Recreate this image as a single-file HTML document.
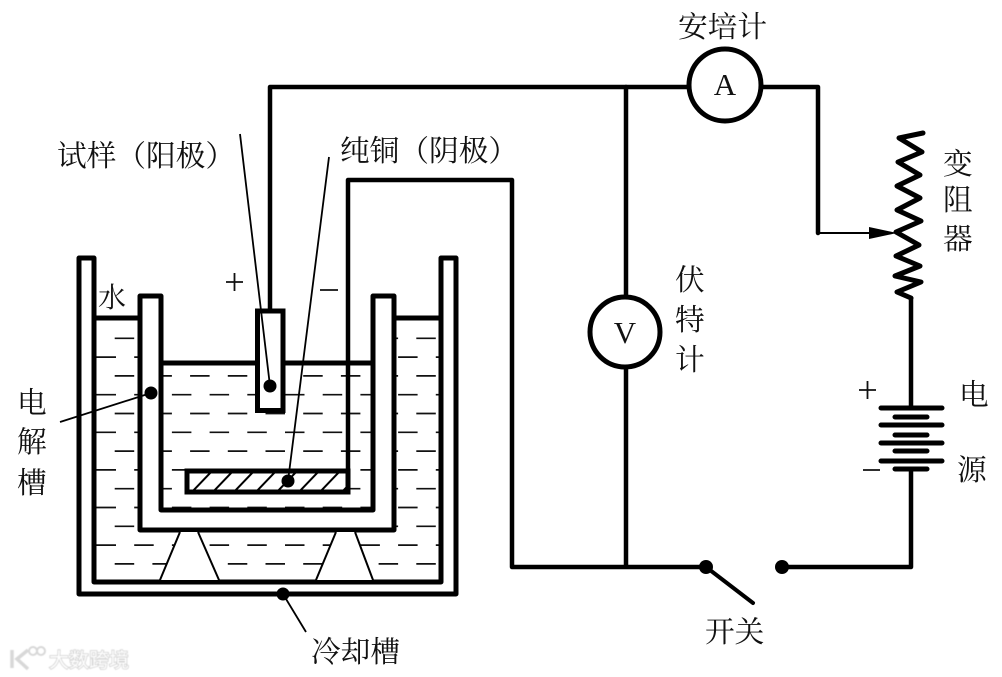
<!DOCTYPE html>
<html><head><meta charset="utf-8"><style>
html,body{margin:0;padding:0;background:#fff}
svg{display:block}
text{font-family:"Liberation Serif","Noto Serif CJK SC",serif;fill:#111;font-size:29.700px}
</style></head><body>
<svg width="1002" height="677" viewBox="0 0 1002 677" xmlns="http://www.w3.org/2000/svg">
<defs>
<clipPath id="cw"><path d="M94 318H139V530H394V318H441V582H94Z"/></clipPath>
<clipPath id="ci"><rect x="162" y="363" width="211" height="147"/></clipPath>
<clipPath id="ch"><rect x="187" y="471" width="161" height="21"/></clipPath>
<filter id="soft" x="-10%" y="-20%" width="120%" height="140%"><feGaussianBlur stdDeviation="0.500"/></filter>
<g id="dashes" stroke="#111" stroke-width="1.700" fill="none">
<path d="M77 338.300H460M77 375.900H460M77 413.500H460M77 451.100H460M77 488.700H460M77 526.300H460M77 563.900H460" stroke-dasharray="19.500 18.200"/>
<path d="M96.500 357.100H460M96.500 394.700H460M96.500 432.300H460M96.500 469.900H460M96.500 507.500H460M96.500 545.100H460" stroke-dasharray="19.500 18.200"/>
</g>
</defs>
<rect width="1002" height="677" fill="#fff"/>
<g clip-path="url(#cw)"><use href="#dashes"/></g>
<g clip-path="url(#ci)"><use href="#dashes"/></g>
<g stroke="#000" fill="none" stroke-linejoin="round" stroke-linecap="round">
<path d="M94 582V258H79V594H456V258H441V582H94" stroke-width="5"/>
<path d="M94 318H139M394 318H441" stroke-width="5"/>
<path d="M161 510V296H140V530H394V296H373V510H161" stroke-width="5"/>
<path d="M162 363H373" stroke-width="5"/>
</g>
<path d="M180 532L160 580H219L198 532ZM336 532L316 580H373L355 532Z" fill="#fff"/>
<path d="M180 532L160 580M198 532L219 580M336 532L316 580M355 532L373 580" stroke="#000" stroke-width="2" fill="none"/>
<rect x="257.500" y="311" width="25.500" height="99.500" fill="#fff" stroke="#000" stroke-width="5"/>
<rect x="187" y="471" width="161" height="21" fill="#fff"/>
<g clip-path="url(#ch)" stroke="#000" stroke-width="2">
<path d="M190 494L212 471M211 494L233 471M232 494L254 471M254 494L276 471M275 494L297 471M297 494L319 471M318 494L340 471M340 494L362 471"/>
</g>
<rect x="187" y="471" width="161" height="21" fill="none" stroke="#000" stroke-width="5"/>
<g stroke="#000" stroke-width="4.500" fill="none" stroke-linecap="round" stroke-linejoin="round">
<path d="M270 311V87H688M762 87H818V233"/>
<path d="M348 471V180H512V567H706M782 567H911V469M626 87V297M626 368V567"/>
<path d="M911 298V408"/>
<path d="M923 133L899 138L922 152L898 162L920 175L897 186L920 198L897 210L921 221L896 232L919 245L896 256L920 266L895 276L921 282L897 292L911 298" stroke-width="5"/>
<path d="M706 567L753 603" stroke-width="4"/>
<path d="M881 408H942M881 425H942M881 443H942M881 461H942" stroke-width="5"/>
<path d="M895 417H927M895 435H927M895 451H927M895 469H927" stroke-width="5"/>
</g>
<circle cx="725" cy="85" r="36" fill="#fff" stroke="#000" stroke-width="5"/>
<circle cx="625" cy="332" r="35" fill="#fff" stroke="#000" stroke-width="5"/>
<path d="M818 233H870" stroke="#000" stroke-width="2"/>
<path d="M869 227L897 233L869 239Z" fill="#000"/>
<g stroke="#000" stroke-width="1.800" fill="none">
<path d="M240 134L270 386M329 157L288 481M60 422L151 393M283 594L306 632"/>
</g>
<g fill="#000">
<circle cx="270" cy="386" r="6.500"/><circle cx="288" cy="481" r="6.500"/><circle cx="151" cy="393" r="6.500"/><circle cx="283" cy="594" r="6.500"/><circle cx="706" cy="567" r="7"/><circle cx="782" cy="567" r="7"/>
</g>
<g stroke="#111" stroke-width="1.800" fill="none">
<path d="M226 282H243M234.500 273V291M320 290H338M859 390H876M867.500 381V399M863 470H880"/>
</g>
<text x="725" y="95" text-anchor="middle" style="font-size:31px">A</text>
<text x="625" y="343" text-anchor="middle" style="font-size:31px">V</text>
<text x="678" y="37">安培计</text>
<text x="57" y="166">试样（阳极）</text>
<text x="340" y="161">纯铜（阴极）</text>
<text x="98" y="307" style="font-size:28px">水</text>
<text x="17" y="413">电</text><text x="17" y="452">解</text><text x="17" y="493">槽</text>
<text x="675" y="290">伏</text><text x="675" y="330">特</text><text x="675" y="370">计</text>
<text x="943" y="174">变</text><text x="943" y="210">阻</text><text x="943" y="249">器</text>
<text x="959" y="405">电</text><text x="957" y="480">源</text>
<text x="705" y="642">开关</text>
<text x="311" y="662">冷却槽</text>
<g filter="url(#soft)">
<path d="M12 650V668M28 650L17 659L28 669" stroke="#d8d8d8" stroke-width="3.500" fill="none"/>
<circle cx="33" cy="651" r="4" fill="none" stroke="#d8d8d8" stroke-width="2"/><circle cx="41" cy="651" r="4" fill="none" stroke="#d8d8d8" stroke-width="2"/>
<text x="49" y="667" style="font-family:'Liberation Sans','Noto Sans CJK SC',sans-serif;font-size:20px;fill:#fff;stroke:#cfcfcf;stroke-width:1.500;paint-order:stroke">大数跨境</text>
</g>
</svg>
</body></html>
